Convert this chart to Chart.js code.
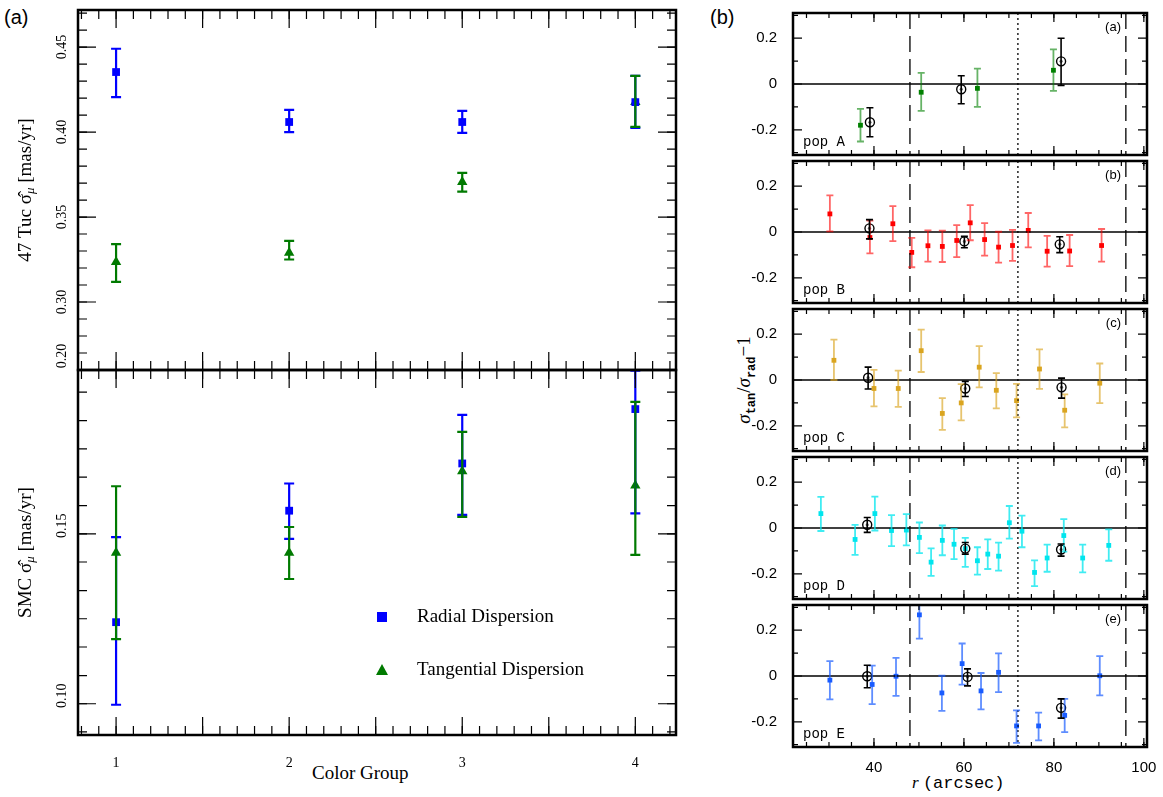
<!DOCTYPE html>
<html><head><meta charset="utf-8">
<script src="https://cdn.jsdelivr.net/npm/chart.js@4"></script>
<style>
body{margin:0;background:#fff;width:1163px;height:797px;position:relative;overflow:hidden;font-family:"Liberation Sans",sans-serif}
canvas{position:absolute}
.lbl{position:absolute;white-space:nowrap}
</style></head><body>
<div class="lbl" style="left:4px;top:6px;font-size:20px">(a)</div>
<div class="lbl" style="left:710px;top:6px;font-size:20px">(b)</div>
<div class="lbl" style="left:312px;top:762px;font-size:19px;font-family:'Liberation Serif',serif">Color Group</div>
<div class="lbl" style="left:912px;top:773px;font-size:17px;font-family:'Liberation Serif',serif"><i>r</i> <span style="font-family:'Liberation Mono',monospace">(arcsec)</span></div>
<div class="lbl" style="left:746px;top:380px;transform:translate(-50%,-50%) rotate(-90deg);font-size:19px;font-family:'Liberation Serif',serif"><i>σ</i><sub style="font-size:12px;font-family:'Liberation Mono',monospace;font-weight:bold">tan</sub>/<i>σ</i><sub style="font-size:12px;font-family:'Liberation Mono',monospace;font-weight:bold">rad</sub>−1</div>
<canvas id="lt"></canvas><canvas id="lb"></canvas>
<canvas id="pa"></canvas><canvas id="pb"></canvas><canvas id="pc"></canvas><canvas id="pd"></canvas><canvas id="pe"></canvas>
<script>
// left panels: color group, [value, lo, hi]
const groups = [1, 2, 3, 4];
const tucRadial = [[0.4353,0.4206,0.449],[0.4059,0.400,0.413],[0.4059,0.3995,0.4124],[0.4176,0.4024,0.433]];
const tucTangential = [[0.3235,0.3118,0.334],[0.329,0.325,0.336],[0.3706,0.365,0.376],[0.4176,0.403,0.433]];
const smcRadial = [[0.124,0.0997,0.149],[0.1568,0.1485,0.1648],[0.1707,0.1556,0.185],[0.1867,0.156,0.198]];
const smcTangential = [[0.1444,0.119,0.164],[0.1444,0.1367,0.152],[0.1684,0.155,0.18],[0.1642,0.1438,0.1888]];

// right panels: [r, value, lo, hi]
const popA = [[37.0,-0.18,-0.251,-0.109],[50.5,-0.036,-0.117,0.049],[63.0,-0.019,-0.1,0.067],[79.9,0.06,-0.03,0.151]];
const popAbin = [[39.1,-0.167,-0.23,-0.104],[59.4,-0.023,-0.086,0.036],[81.6,0.099,-0.006,0.2]];
const popB = [[30.2,0.079,0.003,0.16],[39.1,-0.024,-0.093,0.05],[44.2,0.036,-0.04,0.113],[48.4,-0.089,-0.154,-0.026],[52.0,-0.06,-0.129,0.007],[55.2,-0.063,-0.131,0.006],[58.4,-0.037,-0.11,0.03],[61.4,0.04,-0.036,0.117],[64.6,-0.033,-0.103,0.039],[67.7,-0.066,-0.134,0.001],[70.8,-0.059,-0.126,0.009],[74.3,0.007,-0.067,0.083],[78.5,-0.084,-0.151,-0.017],[83.5,-0.083,-0.149,-0.013],[90.6,-0.059,-0.129,0.013]];
const popBbin = [[39.0,0.016,-0.03,0.054],[60.1,-0.041,-0.069,-0.019],[81.3,-0.054,-0.09,-0.021]];
const popC = [[31.1,0.086,0,0.176],[40.0,-0.037,-0.115,0.044],[45.4,-0.037,-0.117,0.041],[50.5,0.128,0.035,0.22],[55.2,-0.146,-0.218,-0.079],[59.4,-0.1,-0.176,-0.018],[63.4,0.056,-0.032,0.148],[67.2,-0.045,-0.124,0.03],[71.7,-0.09,-0.163,-0.017],[76.8,0.048,-0.039,0.134],[82.4,-0.132,-0.207,-0.063],[90.2,-0.014,-0.101,0.072]];
const popCbin = [[38.7,0.01,-0.039,0.056],[60.3,-0.037,-0.072,-0.006],[81.7,-0.032,-0.079,0.008]];
const popD = [[28.2,0.063,-0.013,0.136],[35.8,-0.05,-0.117,0.014],[40.2,0.063,-0.011,0.137],[43.9,-0.011,-0.079,0.056],[47.2,-0.009,-0.076,0.061],[50.1,-0.041,-0.11,0.024],[52.7,-0.149,-0.209,-0.089],[55.2,-0.054,-0.119,0.011],[57.8,-0.071,-0.136,-0.004],[60.3,-0.09,-0.17,-0.043],[63.0,-0.143,-0.204,-0.084],[65.3,-0.114,-0.179,-0.05],[67.7,-0.123,-0.186,-0.064],[70.1,0.023,-0.046,0.096],[72.9,-0.014,-0.084,0.054],[75.7,-0.194,-0.254,-0.141],[78.5,-0.131,-0.191,-0.073],[82.2,-0.033,-0.103,0.039],[86.4,-0.131,-0.194,-0.073],[92.2,-0.076,-0.143,-0.006]];
const popDbin = [[38.5,0.014,-0.019,0.046],[60.3,-0.09,-0.114,-0.063],[81.6,-0.094,-0.123,-0.07]];
const popE = [[30.2,-0.018,-0.102,0.065],[39.6,-0.037,-0.123,0.045],[44.9,-0.001,-0.087,0.079],[50.1,0.267,0.163,0.37],[55.1,-0.074,-0.152,0.001],[59.6,0.054,-0.038,0.142],[63.8,-0.065,-0.146,0.013],[67.7,0.016,-0.07,0.099],[71.7,-0.218,-0.292,-0.15],[76.6,-0.218,-0.281,-0.16],[82.4,-0.172,-0.245,-0.1],[90.2,0.001,-0.085,0.087]];
const popEbin = [[38.5,-0.001,-0.051,0.047],[60.8,-0.004,-0.043,0.031],[81.6,-0.139,-0.184,-0.1]];
const rTicks = [40, 60, 80, 100];
const vTicks = [-0.2, 0, 0.2];

const serif = "'Liberation Serif', serif";

// error bars, frame, inward ticks, annotations
const decor = {
  id: 'decor',
  afterDraw(chart) {
    const c = chart.ctx, a = chart.chartArea, o = chart.options.plugins.decor;
    const xs = chart.scales.x, ys = chart.scales.y;
    c.save();
    c.beginPath(); c.rect(a.left, a.top, a.right - a.left, a.bottom - a.top); c.clip();
    (o.vlines || []).forEach(v => {
      c.beginPath(); c.setLineDash(v.dash); c.lineWidth = 1.3; c.strokeStyle = '#000';
      const px = xs.getPixelForValue(v.x); c.moveTo(px, a.top); c.lineTo(px, a.bottom); c.stroke();
    });
    c.setLineDash([]);
    if (o.zero) {
      c.beginPath(); c.lineWidth = 1.3; c.moveTo(a.left, ys.getPixelForValue(0)); c.lineTo(a.right, ys.getPixelForValue(0)); c.stroke();
    }
    chart.data.datasets.forEach(ds => {
      if (!ds.err) return;
      c.strokeStyle = ds.errColor; c.lineWidth = ds.errWidth || 1.5;
      ds.err.forEach((e, i) => {
        const px = xs.getPixelForValue(ds.data[i].x);
        const y1 = ys.getPixelForValue(e[0]), y2 = ys.getPixelForValue(e[1]), w = ds.cap;
        c.beginPath(); c.moveTo(px, y1); c.lineTo(px, y2);
        c.moveTo(px - w, y1); c.lineTo(px + w, y1); c.moveTo(px - w, y2); c.lineTo(px + w, y2); c.stroke();
      });
    });
    c.restore();
    c.save();
    c.strokeStyle = '#000'; c.lineWidth = 1.2;
    const tick = (scale, vals, len) => vals.forEach(v => {
      const p = scale.getPixelForValue(v);
      if (scale === xs) {
        if (p < a.left + 1 || p > a.right - 1) return;
        c.beginPath(); c.moveTo(p, a.bottom); c.lineTo(p, a.bottom - len); c.moveTo(p, a.top); c.lineTo(p, a.top + len); c.stroke();
      } else {
        if (p < a.top + 1 || p > a.bottom - 1) return;
        c.beginPath(); c.moveTo(a.left, p); c.lineTo(a.left + len, p); c.moveTo(a.right, p); c.lineTo(a.right - len, p); c.stroke();
      }
    });
    tick(xs, o.xMajor, o.tl[0]); tick(xs, o.xMinor, o.tl[1]); tick(ys, o.yMajor, o.tl[0]); tick(ys, o.yMinor, o.tl[1]);
    c.lineWidth = 2.5; c.strokeRect(a.left, a.top, a.right - a.left, a.bottom - a.top);
    c.fillStyle = '#000';
    if (o.yRot) {
      c.font = '14px ' + serif; c.textAlign = 'center'; c.textBaseline = 'middle';
      o.yRot.forEach(v => {
        const p = ys.getPixelForValue(v) + (o.yShift || 0);
        c.save(); c.translate(a.left - 16, p); c.rotate(-Math.PI / 2); c.fillText(v.toFixed(2), 0, 0); c.restore();
      });
      c.save(); c.translate(a.left - 52, (a.top + a.bottom) / 2); c.rotate(-Math.PI / 2);
      c.font = '19px ' + serif; c.textAlign = 'left'; c.textBaseline = 'middle';
      const t1 = o.yTitle + ' σ̂', t2 = ' [mas/yr]';
      const w1 = c.measureText(t1).width, w2 = c.measureText(t2).width;
      c.font = 'italic 13px ' + serif; const wm = c.measureText('μ').width;
      const x0 = -(w1 + wm + w2) / 2;
      c.font = '19px ' + serif; c.fillText(t1, x0, 0);
      c.font = 'italic 13px ' + serif; c.fillText('μ', x0 + w1, 5);
      c.font = '19px ' + serif; c.fillText(t2, x0 + w1 + wm, 0);
      c.restore();
    }
    if (o.tag) {
      c.font = '13px "Liberation Sans", sans-serif'; c.textAlign = 'right'; c.textBaseline = 'top';
      c.fillText(o.tag, a.right - 26, a.top + 8);
      c.font = '14px "Liberation Mono", monospace'; c.textAlign = 'left'; c.textBaseline = 'bottom';
      c.fillText(o.pop, a.left + 10, a.bottom - 6);
    }
    if (o.legend) {
      const off = o.legend;
      c.font = '19px ' + serif; c.textAlign = 'left'; c.textBaseline = 'middle';
      c.fillStyle = '#0000ff'; c.fillRect(377, 617 - off - 5, 10, 10);
      c.fillStyle = '#007a00'; c.beginPath(); c.moveTo(382, 670 - off - 6); c.lineTo(388, 670 - off + 5); c.lineTo(376, 670 - off + 5); c.closePath(); c.fill();
      c.fillStyle = '#000'; c.fillText('Radial Dispersion', 417, 617 - off); c.fillText('Tangential Dispersion', 417, 670 - off);
    }
    c.restore();
  }
};

function range(a, b, s) { const r = []; for (let v = a; v <= b + 1e-9; v += s) r.push(+v.toFixed(4)); return r; }

function place(id, left, top, w, h) {
  const el = document.getElementById(id);
  el.style.left = left + 'px'; el.style.top = top + 'px';
  el.width = w; el.height = h;
  return el;
}

function noPad(s) { s.paddingTop = 0; s.paddingBottom = 0; s.paddingLeft = 0; s.paddingRight = 0; }

function leftPanel(id, top, h, rad, tan, ymin, ymax, pad, showX, yTitle, legend, axH, yMinorStep, yShift) {
  const el = place(id, 0, top, 690, h);
  const pts = arr => arr.map((d, i) => ({ x: groups[i], y: d[0] }));
  new Chart(el, {
    type: 'scatter',
    data: { datasets: [
      { data: pts(rad), err: rad.map(d => [d[1], d[2]]), errColor: '#0000ff', errWidth: 2.2, cap: 5, pointStyle: 'rect', pointRadius: 5.5, backgroundColor: '#0000ff', borderWidth: 0 },
      { data: pts(tan), err: tan.map(d => [d[1], d[2]]), errColor: '#007a00', errWidth: 2.2, cap: 5, pointStyle: 'triangle', pointRadius: 6, backgroundColor: '#007a00', borderWidth: 0 }
    ] },
    options: {
      responsive: false, animation: false, devicePixelRatio: 1,
      layout: { autoPadding: false, padding: { top: pad[0], bottom: pad[1], right: 14, left: 0 } },
      plugins: { legend: { display: false }, tooltip: { enabled: false },
        decor: { tl: [18, 9], xMajor: range(0.5, 4.5, 0.5), xMinor: range(0.5, 4.5, 0.1), yMajor: range(0.05, 0.5, 0.05), yMinor: range(0.05, 0.5, yMinorStep),
          yRot: range(0.05, 0.5, 0.05).filter(v => v >= ymin - 0.001 && v <= ymax + 0.003), yShift: yShift, yTitle: yTitle, legend: legend } },
      scales: {
        x: { type: 'linear', min: 0.78, max: 4.235, display: showX, grid: { display: false }, border: { display: false },
          afterBuildTicks: s => { s.ticks = groups.map(v => ({ value: v })); },
          afterFit: s => { s.height = axH; noPad(s); },
          ticks: { font: { family: serif, size: 14 }, color: '#000', padding: 12 } },
        y: { min: ymin, max: ymax, grid: { display: false }, border: { display: false }, ticks: { display: false },
          afterFit: s => { s.width = 78; noPad(s); } }
      }
    },
    plugins: [decor]
  });
}

leftPanel('lt', 0, 372, tucRadial, tucTangential, 0.26, 0.4718, [10, 2], false, '47 Tuc', 0, 0, 0.01, 0);
leftPanel('lb', 340, 457, smcRadial, smcTangential, 0.0908, 0.1982, [30, 0], true, 'SMC', 340, 62, 0.05 / 6, -8);

function rightPanel(id, chartTop, pts, bins, color, errColor, tag, pop, last) {
  const top = chartTop - 5;
  const h = last ? 797 - top : 149;
  const el = place(id, 745, top, 418, h);
  const xy = arr => arr.map(d => ({ x: d[0], y: d[1] }));
  new Chart(el, {
    type: 'scatter',
    data: { datasets: [
      { data: xy(pts), err: pts.map(d => [d[2], d[3]]), errColor: errColor, errWidth: 1.8, cap: 3.5, pointStyle: 'rect', pointRadius: 3.4, backgroundColor: color, borderWidth: 0 },
      { data: xy(bins), err: bins.map(d => [d[2], d[3]]), errColor: '#000', errWidth: 1.6, cap: 3.5, pointStyle: 'circle', pointRadius: 4.5, backgroundColor: 'rgba(255,255,255,0.4)', borderColor: '#000', borderWidth: 1.4 },
      { data: xy(bins), pointStyle: 'circle', pointRadius: 1.6, backgroundColor: '#000', borderWidth: 0 }
    ] },
    options: {
      responsive: false, animation: false, devicePixelRatio: 1,
      layout: { autoPadding: false, padding: { top: 5, bottom: last ? 0 : 2, right: 16, left: 0 } },
      plugins: { legend: { display: false }, tooltip: { enabled: false },
        decor: { tl: [9, 5], zero: true, vlines: [{ x: 48, dash: [16, 7] }, { x: 96, dash: [16, 7] }, { x: 72, dash: [2, 3] }],
          xMajor: range(20, 100, 20), xMinor: range(20, 100, 5), yMajor: vTicks, yMinor: [-0.3, -0.1, 0.1, 0.3], tag: tag, pop: pop } },
      scales: {
        x: { type: 'linear', min: 22, max: 100.7, display: last, grid: { display: false }, border: { display: false },
          afterBuildTicks: s => { s.ticks = rTicks.map(v => ({ value: v })); },
          afterFit: s => { s.height = last ? 50 : 0; noPad(s); },
          ticks: { font: { family: "'Liberation Sans', sans-serif", size: 15 }, color: '#000', padding: 4 } },
        y: { min: -0.31, max: 0.31, grid: { display: false }, border: { display: false },
          afterBuildTicks: s => { s.ticks = vTicks.map(v => ({ value: v })); },
          afterFit: s => { s.width = 48; noPad(s); },
          ticks: { font: { family: "'Liberation Sans', sans-serif", size: 15 }, color: '#000', padding: 8,
            callback: v => v === 0 ? '0' : v.toFixed(1) } }
      }
    },
    plugins: [decor]
  });
}

rightPanel('pa', 13, popA, popAbin, '#008000', 'rgba(0,128,0,0.6)', '(a)', 'pop A', false);
rightPanel('pb', 161, popB, popBbin, '#ff0000', 'rgba(255,0,0,0.6)', '(b)', 'pop B', false);
rightPanel('pc', 309, popC, popCbin, '#daa520', 'rgba(218,165,32,0.65)', '(c)', 'pop C', false);
rightPanel('pd', 457, popD, popDbin, '#00e5ee', 'rgba(0,229,238,0.75)', '(d)', 'pop D', false);
rightPanel('pe', 605, popE, popEbin, '#1a5cff', 'rgba(26,92,255,0.7)', '(e)', 'pop E', true);
</script>
</body></html>
